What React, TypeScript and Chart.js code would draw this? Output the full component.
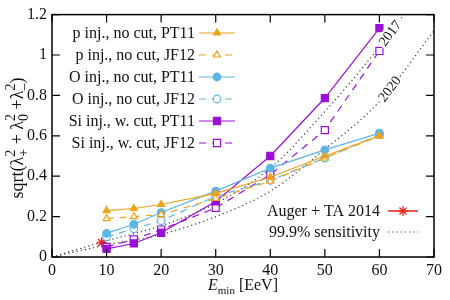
import React, { useEffect, useRef } from 'react';
import { Chart, registerables } from 'chart.js';

Chart.register(...registerables);

// Minimum energy thresholds (EeV) of the simulated sets
const energies = [10, 15, 20, 30, 40, 50, 60];

// sqrt(λ+² + λ0² + λ-²) for each injection scenario
const pPT11 = [0.23, 0.24, 0.26, 0.315, 0.395, 0.5, 0.6];
const pJF12 = [0.19, 0.2, 0.21, 0.29, 0.375, 0.49, 0.6];
const oPT11 = [0.117, 0.162, 0.22, 0.326, 0.44, 0.53, 0.613];
const oJF12 = [0.1, 0.14, 0.18, 0.3, 0.379, 0.49, 0.605];
const siPT11 = [0.04, 0.067, 0.12, 0.275, 0.5, 0.787, 1.133];
const siJF12 = [0.05, 0.087, 0.136, 0.243, 0.408, 0.628, 1.02];

// Measured value
const augerEnergy = [9.1];
const augerValue = [0.072];

// 99.9% sensitivity curves
const sensEnergy2017 = [0, 10, 20, 30, 40, 50, 60, 65];
const sens2017 = [0, 0.08, 0.155, 0.265, 0.44, 0.72, 1.04, 1.22];
const sensEnergy2020 = [0, 10, 20, 30, 40, 50, 60, 70];
const sens2020 = [0, 0.06, 0.112, 0.2, 0.326, 0.533, 0.77, 1.12];

// Year labels placed along the sensitivity curves
const yearLabels = ['2017', '2020'];
const yearLabelEnergy = [61.9, 61.8];

const xTicks = [0, 10, 20, 30, 40, 50, 60, 70];
const yTicks = [0, 0.2, 0.4, 0.6, 0.8, 1, 1.2];

const ORANGE = '#eca21a';
const BLUE = '#5bb5e6';
const PURPLE = '#9a10d6';
const RED = '#e8221a';
const DOTS = '#3a3a3a';
const SERIF = '"Liberation Serif", "DejaVu Serif", serif';

const pts = (xs: number[], ys: number[]) => xs.map((x, i) => ({ x, y: ys[i] }));

function series(label: string, ys: number[], color: string, style: string, filled: boolean, dashed: boolean, r: number) {
  return {
    type: 'line' as const,
    label,
    data: pts(energies, ys),
    borderColor: color,
    backgroundColor: color,
    borderWidth: 1.2,
    borderDash: dashed ? [7, 6] : [],
    pointStyle: style,
    pointRadius: r,
    pointBorderWidth: 1.2,
    pointBackgroundColor: filled ? color : '#ffffff',
    pointBorderColor: color,
    tension: 0,
  };
}

function drawMarker(ctx: CanvasRenderingContext2D, style: string, x: number, y: number, r: number, color: string, fill: string) {
  ctx.save();
  ctx.setLineDash([]);
  ctx.strokeStyle = color;
  ctx.fillStyle = fill;
  ctx.lineWidth = 1.2;
  ctx.beginPath();
  if (style === 'circle') {
    ctx.arc(x, y, r, 0, Math.PI * 2);
  } else if (style === 'rect') {
    const s = Math.SQRT1_2 * r;
    ctx.rect(x - s, y - s, 2 * s, 2 * s);
  } else if (style === 'triangle') {
    let a = 0;
    for (let k = 0; k < 3; k++) {
      const px = x + Math.sin(a) * r;
      const py = y - Math.cos(a) * r;
      if (k === 0) ctx.moveTo(px, py);
      else ctx.lineTo(px, py);
      a += (Math.PI * 2) / 3;
    }
    ctx.closePath();
  } else if (style === 'star') {
    for (let k = 0; k < 4; k++) {
      const a = (k * Math.PI) / 4;
      ctx.moveTo(x - Math.cos(a) * r, y - Math.sin(a) * r);
      ctx.lineTo(x + Math.cos(a) * r, y + Math.sin(a) * r);
    }
    ctx.stroke();
    ctx.restore();
    return;
  }
  ctx.fill();
  ctx.stroke();
  ctx.restore();
}

type Part = { t: string; sub?: string; sup?: string };

// Draws text made of plain runs and stacked sub/superscripts, centred on (0,0)
function drawRich(ctx: CanvasRenderingContext2D, parts: Part[], size: number, italicFirst = false, smallRatio = 0.7) {
  const small = Math.round(size * smallRatio);
  const measure = (p: Part, i: number) => {
    if (p.sub !== undefined || p.sup !== undefined) {
      ctx.font = `${small}px ${SERIF}`;
      return Math.max(p.sub ? ctx.measureText(p.sub).width : 0, p.sup ? ctx.measureText(p.sup).width : 0);
    }
    ctx.font = `${italicFirst && i === 0 ? 'italic ' : ''}${size}px ${SERIF}`;
    return ctx.measureText(p.t).width;
  };
  const widths = parts.map(measure);
  const total = widths.reduce((a, b) => a + b, 0);
  let x = -total / 2;
  ctx.textBaseline = 'alphabetic';
  ctx.textAlign = 'left';
  parts.forEach((p, i) => {
    if (p.sub !== undefined || p.sup !== undefined) {
      ctx.font = `${small}px ${SERIF}`;
      if (p.sub) ctx.fillText(p.sub, x, size * 0.25 + 4);
      if (p.sup) ctx.fillText(p.sup, x, -size * 0.42 + 4);
    } else {
      ctx.font = `${italicFirst && i === 0 ? 'italic ' : ''}${size}px ${SERIF}`;
      ctx.fillText(p.t, x, 4);
    }
    x += widths[i];
  });
}

function interp(xs: number[], ys: number[], x: number) {
  for (let i = 0; i < xs.length - 1; i++) {
    if (x >= xs[i] && x <= xs[i + 1]) {
      const t = (x - xs[i]) / (xs[i + 1] - xs[i]);
      return ys[i] + t * (ys[i + 1] - ys[i]);
    }
  }
  return ys[ys.length - 1];
}

const decorations = {
  id: 'decorations',
  afterDatasetsDraw(chart: any) {
    const { ctx, chartArea: a, scales } = chart;
    const sx = scales.x;
    const sy = scales.y;
    ctx.save();

    // year labels on the sensitivity curves
    const curves = [
      [sensEnergy2017, sens2017],
      [sensEnergy2020, sens2020],
    ];
    yearLabels.forEach((txt, i) => {
      const [xs, ys] = curves[i];
      const e = yearLabelEnergy[i];
      const px = sx.getPixelForValue(e);
      const py = sy.getPixelForValue(interp(xs, ys, e));
      const p1x = sx.getPixelForValue(e - 1);
      const p1y = sy.getPixelForValue(interp(xs, ys, e - 1));
      const p2x = sx.getPixelForValue(e + 1);
      const p2y = sy.getPixelForValue(interp(xs, ys, e + 1));
      const ang = Math.atan2(p2y - p1y, p2x - p1x);
      ctx.save();
      ctx.translate(px, py);
      ctx.rotate(ang);
      ctx.font = `14px ${SERIF}`;
      const w = ctx.measureText(txt).width;
      ctx.fillStyle = '#ffffff';
      ctx.fillRect(-w / 2 - 2, -7, w + 4, 14);
      ctx.fillStyle = '#111';
      ctx.textAlign = 'center';
      ctx.textBaseline = 'middle';
      ctx.fillText(txt, 0, 1);
      ctx.restore();
    });

    // frame and inward ticks
    ctx.strokeStyle = '#000';
    ctx.lineWidth = 1.5;
    ctx.setLineDash([]);
    ctx.strokeRect(a.left, a.top, a.right - a.left, a.bottom - a.top);
    ctx.lineWidth = 1.2;
    ctx.beginPath();
    xTicks.forEach((v) => {
      const x = sx.getPixelForValue(v);
      ctx.moveTo(x, a.bottom);
      ctx.lineTo(x, a.bottom - 8);
      ctx.moveTo(x, a.top);
      ctx.lineTo(x, a.top + 8);
    });
    yTicks.forEach((v) => {
      const y = sy.getPixelForValue(v);
      ctx.moveTo(a.left, y);
      ctx.lineTo(a.left + 8, y);
      ctx.moveTo(a.right, y);
      ctx.lineTo(a.right - 8, y);
    });
    ctx.stroke();

    // legends
    const ds = chart.data.datasets;
    const drawEntry = (d: any, textRight: number, x0: number, x1: number, y: number) => {
      ctx.font = `16px ${SERIF}`;
      ctx.fillStyle = '#111';
      ctx.textAlign = 'right';
      ctx.textBaseline = 'middle';
      ctx.fillText(d.label, textRight, y + 1);
      ctx.save();
      ctx.strokeStyle = d.borderColor;
      ctx.lineWidth = d.borderWidth;
      ctx.setLineDash(d.borderDash || []);
      ctx.beginPath();
      ctx.moveTo(x0, y);
      ctx.lineTo(x1, y);
      ctx.stroke();
      ctx.restore();
      if (d.pointRadius > 0) {
        drawMarker(ctx, d.pointStyle, (x0 + x1) / 2, y, d.pointRadius, d.pointBorderColor, d.pointBackgroundColor);
      }
    };
    for (let i = 0; i < 6; i++) drawEntry(ds[i], 195, 199, 235, 33 + i * 22);
    drawEntry(ds[6], 380, 388, 418, 211);
    drawEntry(ds[7], 380, 388, 418, 232);

    // axis titles
    ctx.fillStyle = '#111';
    ctx.save();
    ctx.translate(19, 138);
    ctx.rotate(-Math.PI / 2);
    drawRich(ctx, [
      { t: 'sqrt(λ' }, { t: '', sub: '+', sup: '2' }, { t: ' + λ' }, { t: '', sub: '0', sup: '2' },
      { t: ' +λ' }, { t: '', sub: '–', sup: '2' }, { t: ')' },
    ], 18, false, 0.78);
    ctx.restore();
    ctx.save();
    ctx.translate(243, 286);
    drawRich(ctx, [{ t: 'E' }, { t: '', sub: 'min' }, { t: ' [EeV]' }], 16, true);
    ctx.restore();

    ctx.restore();
  },
};

export default function App() {
  const ref = useRef<HTMLCanvasElement | null>(null);

  useEffect(() => {
    if (!ref.current) return;
    const sens = (xs: number[], ys: number[], label: string) => ({
      type: 'line' as const,
      label,
      data: pts(xs, ys),
      borderColor: DOTS,
      borderWidth: 1.2,
      borderDash: [1.2, 3],
      pointRadius: 0,
      tension: 0.3,
      cubicInterpolationMode: 'monotone' as const,
    });
    const chart = new Chart(ref.current, {
      type: 'line',
      data: {
        datasets: [
          series('p inj., no cut, PT11', pPT11, ORANGE, 'triangle', true, false, 4),
          series('p inj., no cut, JF12', pJF12, ORANGE, 'triangle', false, true, 4),
          series('O inj., no cut, PT11', oPT11, BLUE, 'circle', true, false, 3.8),
          series('O inj., no cut, JF12', oJF12, BLUE, 'circle', false, true, 3.8),
          series('Si inj., w. cut, PT11', siPT11, PURPLE, 'rect', true, false, 5),
          series('Si inj., w. cut, JF12', siJF12, PURPLE, 'rect', false, true, 5),
          {
            type: 'line' as const,
            label: 'Auger + TA 2014',
            data: pts(augerEnergy, augerValue),
            borderColor: RED,
            backgroundColor: RED,
            borderWidth: 1.5,
            borderDash: [],
            showLine: false,
            pointStyle: 'star',
            pointRadius: 5,
            pointBorderWidth: 1.5,
            pointBorderColor: RED,
            pointBackgroundColor: RED,
          } as any,
          sens(sensEnergy2017, sens2017, '99.9% sensitivity'),
          sens(sensEnergy2020, sens2020, '99.9% sensitivity (2020)'),
        ],
      },
      options: {
        responsive: false,
        animation: false,
        layout: { padding: { top: 13, right: 16, left: 0, bottom: 0 } },
        plugins: { legend: { display: false }, tooltip: { enabled: false } },
        scales: {
          x: {
            type: 'linear',
            min: 0,
            max: 70,
            afterFit: (s: any) => { s.height = 43; },
            afterBuildTicks: (s: any) => { s.ticks = xTicks.map((v) => ({ value: v })); },
            grid: { display: false, drawTicks: false },
            border: { display: false },
            ticks: { padding: 4, color: '#111', font: { family: SERIF, size: 16 }, maxRotation: 0 },
          },
          y: {
            type: 'linear',
            min: 0,
            max: 1.2,
            afterFit: (s: any) => { s.width = 52; },
            afterBuildTicks: (s: any) => { s.ticks = yTicks.map((v) => ({ value: v })); },
            grid: { display: false, drawTicks: false },
            border: { display: false },
            ticks: {
              padding: 5,
              color: '#111',
              font: { family: SERIF, size: 16 },
              callback: (v: any) => String(Number(Number(v).toFixed(1))),
            },
          },
        },
      },
      plugins: [decorations],
    });
    return () => chart.destroy();
  }, []);

  return (
    <div style={{ position: 'fixed', left: 0, top: 0, width: 450, height: 300, background: '#fff' }}>
      <canvas ref={ref} width={450} height={300} />
    </div>
  );
}
